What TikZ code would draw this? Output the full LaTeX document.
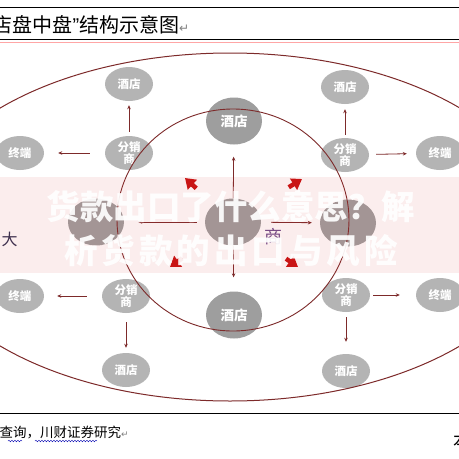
\documentclass[tikz,border=0pt]{standalone}
\usepackage{fontspec}
\setmainfont{Noto Sans CJK SC}
\newfontfamily\symfont{DejaVu Sans}
\newfontfamily\latfont{Liberation Sans}
\usetikzlibrary{shapes.geometric,arrows.meta,decorations.pathmorphing}
\definecolor{linered}{RGB}{125,42,42}
\definecolor{nodegray}{RGB}{180,180,180}
\definecolor{coregray}{RGB}{158,158,158}
\definecolor{arrowred}{RGB}{200,18,18}
\definecolor{bandpink}{RGB}{220,60,60}
\definecolor{inkblue}{RGB}{47,47,80}
\definecolor{inkpurple}{RGB}{110,76,140}

\begin{document}
\begin{tikzpicture}[x=1pt,y=-1pt,
  small/.style={ellipse,fill=nodegray,minimum width=48pt,minimum height=34pt,inner sep=0pt,
    text=white,align=center,font=\bfseries\fontsize{11.5}{12.5}\selectfont},
  core/.style={ellipse,fill=coregray,minimum width=56pt,minimum height=47pt,inner sep=0pt,
    text=white,font=\bfseries\fontsize{13.5}{14}\selectfont},
  link/.style={draw=linered,line width=0.8pt,-{Stealth[length=4pt,width=3.5pt]}},
  push/.style={draw=arrowred,line width=4.5pt,-{Triangle[length=10pt,width=13pt]}},
  wmark/.style={text=white,opacity=0.92,font=\bfseries\fontsize{33.5}{34}\selectfont}]
\useasboundingbox (0,0) rectangle (459,459);
\fill[white] (0,0) rectangle (459,459);
% frame
\draw[black,line width=0.6pt] (0,7) -- (459,7);
\draw[black,line width=0.8pt] (0,39) -- (459,39);
\draw[red!35,line width=0.5pt] (0,42.5) -- (459,42.5);
\draw[black,line width=0.8pt] (0,413) -- (459,413);
\node[anchor=base west,font=\fontsize{20}{20}\selectfont] (title) at (-11,32)
  {店盘中盘{\latfont ”}结构示意图{\symfont\color{gray}\fontsize{12}{12}\selectfont ↵}};
\node[anchor=base west,font=\fontsize{13.5}{14}\selectfont] (source) at (-4,437)
  {查询，川财证券研究{\symfont\color{gray}\fontsize{9}{9}\selectfont ↵}};
\draw[blue!70!black,line width=0.4pt,decorate,decoration={snake,amplitude=0.8pt,segment length=3pt}]
  (8,441) -- (22,441);
\draw[blue!70!black,line width=0.4pt,decorate,decoration={snake,amplitude=0.8pt,segment length=3pt}]
  (35,441) -- (97,441);
\node[anchor=base west,font=\fontsize{18}{18}\selectfont] (pageMark) at (450,447) {本};
\node[anchor=base west,text=inkblue,font=\fontsize{16}{16}\selectfont] (leftMark) at (-2,245) {大};
% centre
\node[core] (hotelN) at (234,121) {酒店};
\node[core] (hotelS) at (234,315) {酒店};
\node[core] (hub) at (233,222) {};
\node[core] (midW) at (96,222) {};
\node[core] (midE) at (348,223) {};
% upper side
\node[small] (hotelNW) at (129,84) {酒店};
\node[small] (distNW) at (129,153) {分销\\商};
\node[small] (endNW) at (20,153) {终端};
\node[small] (hotelNE) at (345,87) {酒店};
\node[small] (distNE) at (345,155) {分销\\商};
\node[small] (endNE) at (440,153) {终端};
% lower side
\node[small] (distSW) at (126,296) {分销\\商};
\node[small] (endSW) at (20,296) {终端};
\node[small] (hotelSW) at (126,370) {酒店};
\node[small] (distSE) at (346,295) {分销\\商};
\node[small] (endSE) at (440,295) {终端};
\node[small] (hotelSE) at (346,371) {酒店};
% rings
\draw[linered,line width=1pt] (230,227) ellipse [x radius=315pt,y radius=174pt];
\draw[linered,line width=0.9pt] (233,220) ellipse [x radius=116pt,y radius=111pt];
% arrows
\draw[link,shorten <=4pt,shorten >=4pt] (distNW) -- (hotelNW);
\draw[link,shorten <=15pt,shorten >=14pt] (distNW) -- (endNW);
\draw[link,shorten <=3pt,shorten >=5pt] (distNE) -- (hotelNE);
\draw[link,shorten <=7pt,shorten >=9pt] (distNE) -- (endNE);
\draw[link,shorten <=15pt,shorten >=13pt] (distSW) -- (endSW);
\draw[link,shorten <=9pt,shorten >=5pt] (distSW) -- (hotelSW);
\draw[link,shorten <=3pt,shorten >=16pt] (distSE) -- (endSE);
\draw[link,shorten <=5pt,shorten >=12pt] (distSE) -- (hotelSE);
\draw[link,shorten >=12pt] (hub) -- (hotelN);
\draw[link,shorten >=14pt] (hub) -- (hotelS);
\draw[link,shorten <=8pt,shorten >=14pt] (hub) -- (midW);
\draw[link,shorten <=10pt,shorten >=8pt] (hub) -- (midE);
\coordinate (pNW) at (185,178);
\coordinate (pNE) at (302,179);
\coordinate (pSE) at (298,267);
\coordinate (pSW) at (170,267);
\draw[push,shorten <=24pt] (hub) -- (pNW);
\draw[push,shorten <=39pt] (hub) -- (pNE);
\draw[push,shorten <=38pt] (hub) -- (pSE);
\draw[push,shorten <=36pt] (hub) -- (pSW);
\node[text=inkpurple,font=\fontsize{18}{18}\selectfont] (shangMark) at (273,237) {商};
% watermark
\fill[bandpink,opacity=0.09] (0,177) rectangle (459,273);
\node[wmark] (wmA) at (231,207) {货款出口了什么意思？解};
\node[wmark] (wmB) at (231,251) {\addfontfeature{LetterSpace=12}析货款的出口与风险};
\end{tikzpicture}
\end{document}
